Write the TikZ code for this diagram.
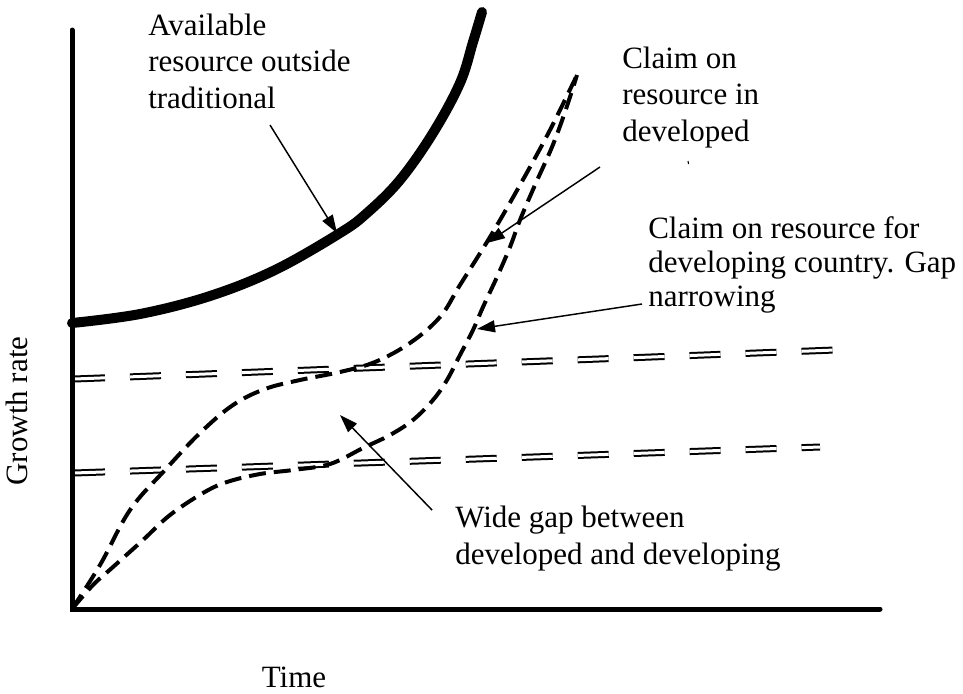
\documentclass[tikz,border=0pt]{standalone}
\usepackage{fontspec}
\setmainfont{Liberation Serif}
\usetikzlibrary{arrows.meta}
% left-aligned block of lines whose baseline is the first line
\newcommand{\lblock}[2]{{\fontsize{23.25}{#1}\selectfont\begin{tabular}[t]{@{}l@{}}#2\end{tabular}}}
\begin{document}
\begin{tikzpicture}[x=0.75pt,y=-0.75pt,
  label/.style={inner sep=0pt,anchor=base west},
  axislabel/.style={font=\fontsize{23.25}{27.4}\selectfont,inner sep=0pt,anchor=base},
  axisline/.style={line width=3.75pt,line cap=round},
  resource/.style={line width=7.5pt,line cap=round},
  claim/.style={line width=3pt,dash pattern=on 12.75pt off 6pt},
  level/.style={double,line width=1.5pt,double distance=2.25pt,dash pattern=on 23.25pt off 18.75pt},
  pointer/.style={line width=1.1pt,-{Triangle[length=13.5pt,width=9pt]}}]
\useasboundingbox (0,0) rectangle (963,693);

% level lines (drawn first so the curves sit on top)
\coordinate (upperL) at (74,379);
\coordinate (upperR) at (835,350);
\coordinate (lowerL) at (74,473);
\coordinate (lowerR) at (820,447);
\draw[level] (upperL) -- (upperR);
\draw[level] (lowerL) -- (lowerR);

% axes
\coordinate (origin) at (72,609);
\coordinate (ytop) at (72,30);
\coordinate (xend) at (880,609);
\draw[axisline] (ytop) -- (origin) -- (xend);

% available resource
\draw[resource] plot[smooth,tension=0.6] coordinates {(72,323) (140,314) (210,296) (275,270) (340,233) (367,213) (400,180) (433,133) (460,83) (473,42) (482,12)};

% claim on resource, developed
\draw[claim] plot[smooth,tension=0.6] coordinates {(72,609) (100,565) (130,510) (165,470) (200,433) (233,405) (265,389) (300,380) (340,372) (375,362) (410,343) (440,317) (460,285) (490,237) (520,185) (550,130) (577,75)};

% claim on resource, developing
\draw[claim] plot[smooth,tension=0.6] coordinates {(72,609) (93,585) (113,567) (143,540) (170,515) (203,493) (227,482) (260,474) (293,470) (330,464) (363,448) (390,435) (413,420) (433,400) (447,380) (460,355) (473,330) (483,307) (497,277) (510,247) (520,220) (535,185) (552,147) (565,112) (577,75)};

% labels
\node[label] (avail) at (148,35) {\lblock{27.4pt}{Available\\resource outside\\traditional}};
\node[label] (dev) at (622,68) {\lblock{27.4pt}{Claim on\\resource in\\developed}};
\node[label] (devg) at (648,238) {\lblock{25.8pt}{Claim on resource for\\developing country. Gap\\narrowing}};
\node[label] (gap) at (455,527) {\lblock{28.2pt}{Wide gap between\\developed and developing}};
\node[axislabel,rotate=90] (ylab) at (27,411) {Growth rate};
\node[axislabel] (xlab) at (294,687) {Time};
\coordinate (tickA) at (688,161);
\coordinate (tickB) at (688.5,164);
\draw[line width=0.8pt] (tickA) -- (tickB);

% pointers
\coordinate (availT) at (270,125);
\coordinate (availH) at (337,233);
\coordinate (devT) at (600,167);
\coordinate (devH) at (487,243);
\coordinate (devgT) at (642,304);
\coordinate (devgH) at (477,329);
\coordinate (gapT) at (432,510);
\coordinate (gapH) at (340,415);
\draw[pointer] (availT) -- (availH);
\draw[pointer] (devT) -- (devH);
\draw[pointer] (devgT) -- (devgH);
\draw[pointer] (gapT) -- (gapH);
\end{tikzpicture}
\end{document}
